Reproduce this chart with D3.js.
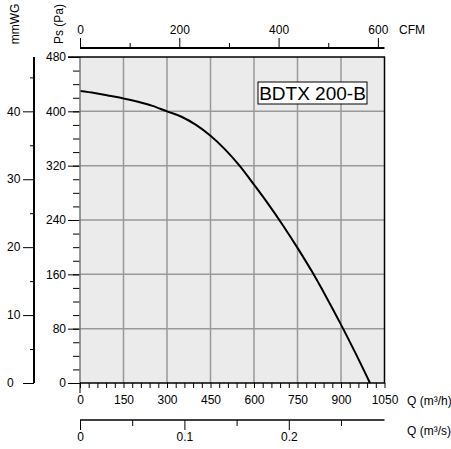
<!DOCTYPE html>
<html>
<head>
<meta charset="utf-8">
<script src="https://cdn.jsdelivr.net/npm/d3@7"></script>
<style>
  body { margin: 0; background: #fff; }
  svg { display: block; font-family: "Liberation Sans", Arial, sans-serif; }
  .axis text { font-size: 12px; fill: #000; }
</style>
</head>
<body>
<div id="chart"></div>
<script>
// fan curve, static pressure (Pa) against air flow (m3/h)
var flow = [0, 50, 100, 150, 200, 250, 300, 350, 400, 450, 500, 550, 600, 650, 700, 750, 800, 850, 900, 950, 1000];
var pressure = [430, 427, 423, 419, 414, 408, 400, 392, 380, 364, 344, 320, 292, 263, 232, 199, 164, 126, 86, 44, 0];

var modelName = "BDTX 200-B";
var flowTicks = [0, 150, 300, 450, 600, 750, 900, 1050];
var paTicks = [0, 80, 160, 240, 320, 400, 480];
var cfmTicks = [0, 200, 400, 600];
var mmwgTicks = [0, 10, 20, 30, 40];
var m3sTicks = [0, 0.1, 0.2];

// plot box
var pLeft = 80, pRight = 384.5, pTop = 57, pBottom = 383;

var svg = d3.select("#chart").append("svg")
  .attr("width", 451)
  .attr("height", 449);

var x = d3.scaleLinear().domain([0, 1050]).range([pLeft, pRight]);
var y = d3.scaleLinear().domain([0, 480]).range([pBottom, pTop]);
var xCfm = d3.scaleLinear().domain([0, 1050 / 1.712]).range([pLeft, pRight]);
var xM3s = d3.scaleLinear().domain([0, 1050 / 3600]).range([pLeft, pRight]);
var yMm = d3.scaleLinear().domain([0, 48]).range([pBottom, pTop]);

// background
svg.append("rect")
  .attr("x", pLeft).attr("y", pTop)
  .attr("width", pRight - pLeft).attr("height", pBottom - pTop)
  .attr("fill", "#ebebeb");

// grid
svg.append("g")
  .selectAll("line")
  .data(flowTicks.slice(1, -1))
  .enter().append("line")
    .attr("x1", function(d) { return x(d); })
    .attr("x2", function(d) { return x(d); })
    .attr("y1", pTop).attr("y2", pBottom)
    .attr("stroke", "#999").attr("stroke-width", 1.5);

svg.append("g")
  .selectAll("line")
  .data(paTicks.slice(1, -1))
  .enter().append("line")
    .attr("x1", pLeft).attr("x2", pRight)
    .attr("y1", function(d) { return y(d); })
    .attr("y2", function(d) { return y(d); })
    .attr("stroke", "#999").attr("stroke-width", 1.5);

// the curve
var line = d3.line()
  .x(function(d) { return x(d[0]); })
  .y(function(d) { return y(d[1]); })
  .curve(d3.curveMonotoneX);

svg.append("path")
  .datum(flow.map(function(q, i) { return [q, pressure[i]]; }))
  .attr("d", line)
  .attr("fill", "none")
  .attr("stroke", "#000")
  .attr("stroke-width", 2);

// Ps axis, minor then major ticks
svg.append("g")
  .attr("class", "axis")
  .attr("transform", "translate(" + pLeft + ",0)")
  .call(d3.axisLeft(y).tickValues(d3.range(0, 481, 20)).tickSize(7).tickFormat(""))
  .call(function(g) { g.select(".domain").remove(); });

svg.append("g")
  .attr("class", "axis")
  .attr("transform", "translate(" + pLeft + ",0)")
  .call(d3.axisLeft(y).tickValues(paTicks).tickSize(12).tickPadding(2))
  .call(function(g) { g.select(".domain").remove(); });

svg.append("line")
  .attr("x1", pLeft).attr("x2", pLeft).attr("y1", pTop).attr("y2", pBottom)
  .attr("stroke", "#777").attr("stroke-width", 1.5);

// flow axis (m3/h)
svg.append("g")
  .attr("class", "axis")
  .attr("transform", "translate(0," + pBottom + ")")
  .call(d3.axisBottom(x).tickValues(d3.range(0, 1051, 30)).tickSize(5).tickFormat(""))
  .call(function(g) { g.select(".domain").remove(); });

svg.append("g")
  .attr("class", "axis")
  .attr("transform", "translate(0," + pBottom + ")")
  .call(d3.axisBottom(x).tickValues(flowTicks).tickSize(0).tickPadding(12).tickFormat(d3.format("d")))
  .call(function(g) { g.select(".domain").remove(); });

svg.append("line")
  .attr("x1", pLeft).attr("x2", pLeft).attr("y1", pBottom).attr("y2", pBottom + 10)
  .attr("stroke", "#000");

// frame
svg.append("path")
  .attr("d", "M" + (pLeft - 12) + "," + pTop + "H" + pRight + "V" + pBottom + "H" + pLeft)
  .attr("fill", "none")
  .attr("stroke", "#000")
  .attr("stroke-width", 1.5);

svg.append("text")
  .attr("x", 407).attr("y", pBottom + 22)
  .attr("font-size", 12)
  .text("Q (m³/h)");

// CFM axis on top
var cfmY = 48;
svg.append("g")
  .attr("class", "axis")
  .attr("transform", "translate(0," + cfmY + ")")
  .call(d3.axisTop(xCfm).tickValues([100, 300, 500]).tickSize(5).tickFormat(""))
  .call(function(g) { g.select(".domain").remove(); });

svg.append("g")
  .attr("class", "axis")
  .attr("transform", "translate(0," + cfmY + ")")
  .call(d3.axisTop(xCfm).tickValues(cfmTicks).tickSize(10).tickPadding(4))
  .call(function(g) { g.select(".domain").remove(); });

svg.append("line")
  .attr("x1", pLeft).attr("x2", pRight).attr("y1", cfmY).attr("y2", cfmY)
  .attr("stroke", "#000").attr("stroke-width", 2);

svg.append("text")
  .attr("x", 399).attr("y", 34)
  .attr("font-size", 12)
  .text("CFM");

// mmWG axis
var mmX = 34;
svg.append("g")
  .attr("class", "axis")
  .attr("transform", "translate(" + mmX + ",0)")
  .call(d3.axisLeft(yMm).tickValues([5, 15, 25, 35, 45]).tickSize(4).tickFormat(""))
  .call(function(g) { g.select(".domain").remove(); });

svg.append("g")
  .attr("class", "axis")
  .attr("transform", "translate(" + mmX + ",0)")
  .call(d3.axisLeft(yMm).tickValues(mmwgTicks).tickSize(11).tickFormat(""))
  .call(function(g) { g.select(".domain").remove(); });

svg.append("g")
  .selectAll("text")
  .data(mmwgTicks)
  .enter().append("text")
    .attr("x", 7)
    .attr("y", function(d) { return yMm(d); })
    .attr("dy", "0.35em")
    .attr("font-size", 12)
    .text(function(d) { return d; });

svg.append("line")
  .attr("x1", mmX).attr("x2", mmX).attr("y1", pTop).attr("y2", pBottom)
  .attr("stroke", "#000").attr("stroke-width", 2);

// m3/s axis
var m3sY = 420;
svg.append("g")
  .attr("class", "axis")
  .attr("transform", "translate(0," + m3sY + ")")
  .call(d3.axisBottom(xM3s).tickValues([0.05, 0.15, 0.25]).tickSize(6).tickFormat(""))
  .call(function(g) { g.select(".domain").remove(); });

svg.append("g")
  .attr("class", "axis")
  .attr("transform", "translate(0," + m3sY + ")")
  .call(d3.axisBottom(xM3s).tickValues(m3sTicks).tickSize(10).tickPadding(2).tickFormat(d3.format("")))
  .call(function(g) { g.select(".domain").remove(); });

svg.append("line")
  .attr("x1", pLeft).attr("x2", pRight).attr("y1", m3sY).attr("y2", m3sY)
  .attr("stroke", "#000").attr("stroke-width", 1.5);

svg.append("text")
  .attr("x", 407).attr("y", 435)
  .attr("font-size", 12)
  .text("Q (m³/s)");

// axis titles
svg.append("text")
  .attr("transform", "translate(63,24) rotate(-90)")
  .attr("text-anchor", "middle")
  .attr("font-size", 12)
  .text("Ps (Pa)");

svg.append("text")
  .attr("transform", "translate(19,24) rotate(-90)")
  .attr("text-anchor", "middle")
  .attr("font-size", 12)
  .text("mmWG");

// model label
var legend = svg.append("g").attr("transform", "translate(258,82)");
legend.append("rect")
  .attr("width", 109).attr("height", 22)
  .attr("fill", "#fff").attr("stroke", "#000");
legend.append("text")
  .attr("x", 54.5).attr("y", 18)
  .attr("text-anchor", "middle")
  .attr("font-size", 19)
  .text(modelName);
</script>
</body>
</html>
